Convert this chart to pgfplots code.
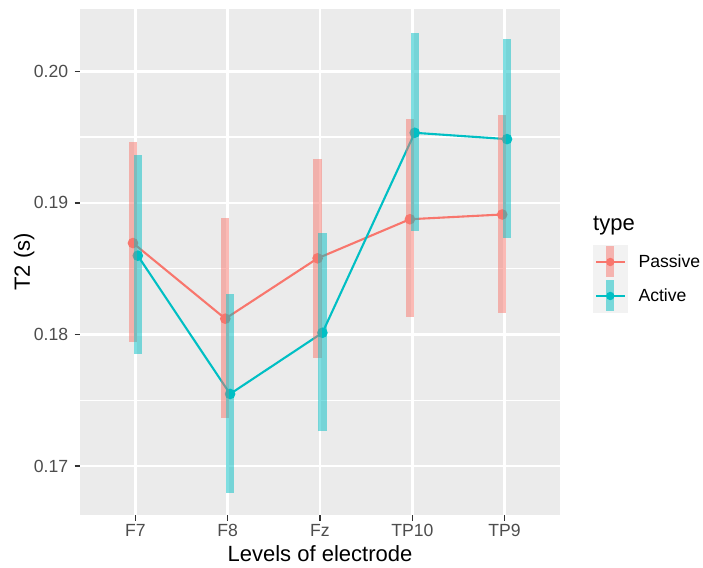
\documentclass[border=0pt]{standalone}
\usepackage{pgfplots}
\usepackage{pgfplotstable}
\pgfplotsset{compat=1.18}
\usepackage{fontspec}
\setmainfont{Liberation Sans}
\definecolor{passive}{HTML}{F8766D}
\definecolor{active}{HTML}{00BFC4}
\definecolor{panelbg}{HTML}{EBEBEB}
\definecolor{keybg}{HTML}{F2F2F2}
\definecolor{ticklab}{HTML}{4D4D4D}
\definecolor{tickc}{HTML}{333333}

\pgfplotstableread{
x     y       ep      em
0.974 0.18695 0.00767 0.00754
1.974 0.18120 0.00766 0.00757
2.974 0.18579 0.00754 0.00759
3.974 0.18876 0.00762 0.00744
4.974 0.18912 0.00756 0.00750
}\passivetab

\pgfplotstableread{
x     y       ep      em
1.026 0.18599 0.00764 0.00751
2.026 0.17548 0.00762 0.00749
3.026 0.18013 0.00762 0.00749
4.026 0.19533 0.00759 0.00746
5.026 0.19485 0.00762 0.00749
}\activetab

\pgfplotsset{
  keyimg/.style={legend image code/.code={
    \path[fill=keybg, draw=none] (0pt,-17pt) rectangle (34.6pt,17pt);
    \path[draw=#1, line width=2.1pt] (3pt,0pt) -- (31.6pt,0pt);
    \path[fill=#1, draw=none] (17.3pt,0pt) circle (4.2pt);
    \path[fill=#1, fill opacity=0.5, draw=none] (13.2pt,-15.5pt) rectangle (21.4pt,15.5pt);
    \path (44.5pt,0pt);
  }}
}

\begin{document}
\begin{tikzpicture}
\path[use as bounding box] (0pt,0pt) rectangle (703pt,567pt);
\begin{axis}[
  at={(80pt,52pt)}, anchor=south west,
  scale only axis, width=480pt, height=506pt,
  xmin=0.4, xmax=5.6, ymin=0.16628, ymax=0.20474,
  axis background/.style={fill=panelbg},
  axis line style={draw=none},
  xtick={1,2,3,4,5}, xticklabels={F7,F8,Fz,TP10,TP9},
  ytick={0.17,0.18,0.19,0.20}, yticklabels={0.17,0.18,0.19,0.20},
  minor ytick={0.175,0.185,0.195},
  grid=both,
  major grid style={white, line width=2.8pt},
  minor grid style={white, line width=1.4pt},
  xtick pos=bottom, ytick pos=left,
  tick align=outside,
  major tick length=5.5pt,
  minor tick length=0pt,
  tick style={tickc, line width=1.4pt},
  ticklabel style={font=\fontsize{17.6}{21}\selectfont, text=ticklab},
  xticklabel style={anchor=base, inner sep=0pt, yshift=-16.2pt},
  yticklabel style={anchor=east, inner sep=0pt, xshift=-6.2pt},
  xlabel={Levels of electrode},
  ylabel={T2 (s)},
  every axis x label/.style={at={(axis description cs:0.5,-0.0923)}, anchor=base, font=\fontsize{22}{26}\selectfont},
  every axis y label/.style={at={(axis description cs:-0.1042,0.5)}, anchor=base, rotate=90, font=\fontsize{22}{26}\selectfont},
  legend style={at={(axis description cs:1.06875,0.5336)}, anchor=north west, draw=none, fill=none,
    inner sep=0pt, outer sep=0pt, row sep=0pt, column sep=0pt,
    font=\fontsize{17.6}{21}\selectfont, nodes={inner sep=0pt}},
  legend cell align=left,
  clip mode=individual,
]
\addplot[passive, line width=2.1pt, mark=*, mark size=4.2pt, keyimg=passive] table[x=x,y=y] {\passivetab};
\addlegendentry{Passive}
\addplot[active, line width=2.1pt, mark=*, mark size=4.2pt, keyimg=active] table[x=x,y=y] {\activetab};
\addlegendentry{Active}
\addplot[forget plot, draw=none, mark=none,
  error bars/.cd, y dir=both, y explicit, error mark=none,
  error bar style={draw=passive, line width=8.3pt, opacity=0.5}]
  table[x=x, y=y, y error plus=ep, y error minus=em] {\passivetab};
\addplot[forget plot, draw=none, mark=none,
  error bars/.cd, y dir=both, y explicit, error mark=none,
  error bar style={draw=active, line width=8.3pt, opacity=0.5}]
  table[x=x, y=y, y error plus=ep, y error minus=em] {\activetab};
\node[anchor=base west, font=\fontsize{22}{26}\selectfont, inner sep=0pt] at (axis description cs:1.06875,0.5613) {type};
\end{axis}
\end{tikzpicture}
\end{document}
